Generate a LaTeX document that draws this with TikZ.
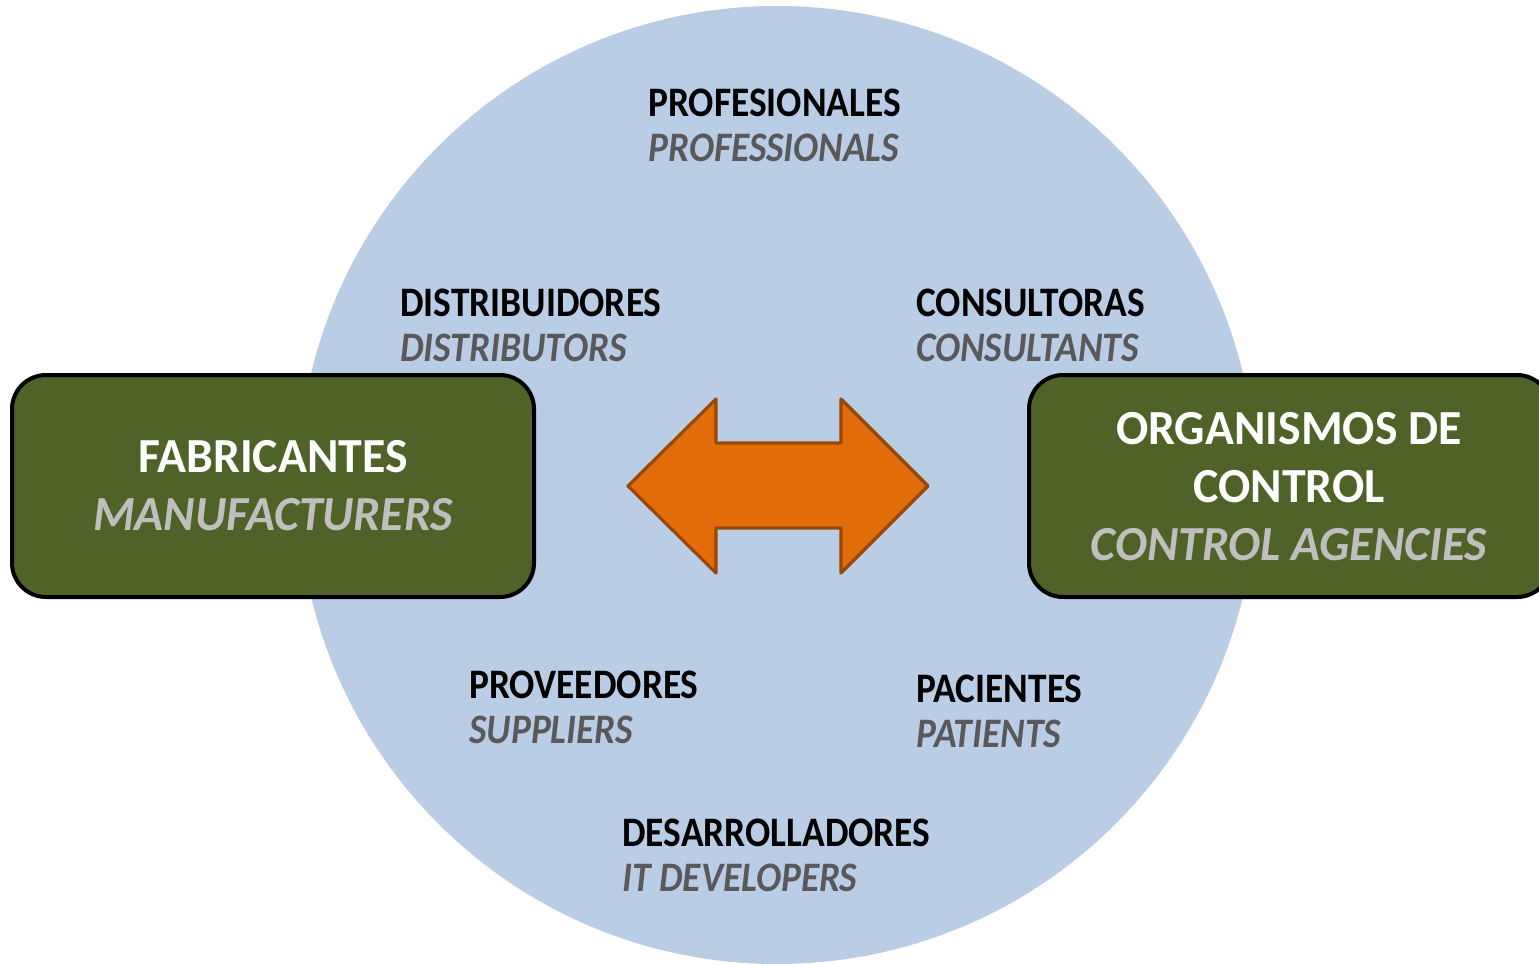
\documentclass[tikz,border=0pt]{standalone}
\usepackage{fontspec}
\setmainfont{Carlito}
\newfontfamily\lblfont[FakeStretch=0.89]{Carlito}
\newfontfamily\boxfont[FakeStretch=0.975]{Carlito}
\definecolor{circblue}{HTML}{B9CDE5}
\definecolor{boxgreen}{HTML}{4F6228}
\definecolor{arrfill}{HTML}{E36C0A}
\definecolor{arrline}{HTML}{984807}
\definecolor{engdark}{HTML}{595959}
\definecolor{englight}{HTML}{BFBFBF}
\tikzset{
  lbl/.style={anchor=west,align=left,inner sep=0pt,font=\lblfont\fontsize{21}{22.5}\selectfont\bfseries},
  actor/.style={draw=black,line width=2pt,fill=boxgreen,rounded corners=17pt,minimum width=261pt,minimum height=111pt,align=center,text=white,inner sep=0pt,font=\boxfont\fontsize{24.5}{29}\selectfont\bfseries},
}
\newcommand{\eng}[1]{\textcolor{engdark}{\itshape #1}}
\newcommand{\engb}[1]{\textcolor{englight}{\itshape #1}}
\begin{document}
\begin{tikzpicture}[x=0.5pt,y=-0.5pt]
\useasboundingbox (0,0) rectangle (1539,964);
\clip (0,0) rectangle (1539,964);
\fill[circblue] (777,485) circle[radius=239.5pt];
% labels
\node[lbl] (prof) at (648,125) {PROFESIONALES\\\eng{PROFESSIONALS}};
\node[lbl] (dist) at (400,325) {DISTRIBUIDORES\\\eng{DISTRIBUTORS}};
\node[lbl] (cons) at (916,325) {CONSULTORAS\\\eng{CONSULTANTS}};
\node[lbl] (prov) at (469,707) {PROVEEDORES\\\eng{SUPPLIERS}};
\node[lbl] (paci) at (916,711) {PACIENTES\\\eng{PATIENTS}};
\node[lbl] (desa) at (622,855) {DESARROLLADORES\\\eng{IT DEVELOPERS}};
% actor boxes
\node[actor] (fab) at (273,486) {FABRICANTES\\\engb{MANUFACTURERS}};
\node[actor] (org) at (1290,486) {};
\node[align=center,text=white,inner sep=0pt,font=\boxfont\fontsize{24.5}{29}\selectfont\bfseries] (orgtxt) at (1289,487) {ORGANISMOS DE\\CONTROL\\\engb{CONTROL AGENCIES}};
% double arrow
\draw[fill=arrfill,draw=arrline,line width=1.6pt,line join=round]
  (628,486) -- (716,399) -- (716,443) -- (841,443) -- (841,399) -- (928,486)
  -- (841,573) -- (841,528) -- (716,528) -- (716,573) -- cycle;
\end{tikzpicture}
\end{document}
